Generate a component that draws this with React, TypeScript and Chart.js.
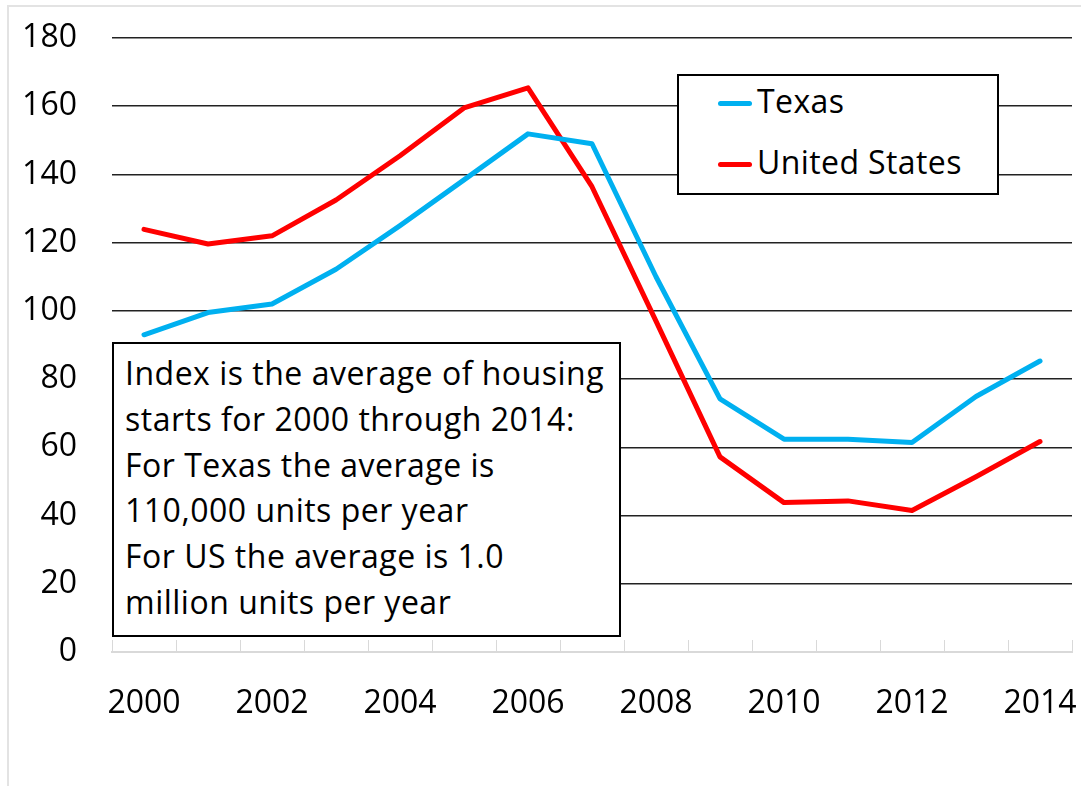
import React, { useEffect, useRef } from "react";
import { Chart, registerables } from "chart.js";

Chart.register(...registerables);

const years = ["2000", "2001", "2002", "2003", "2004", "2005", "2006", "2007", "2008", "2009", "2010", "2011", "2012", "2013", "2014"];
const texas = [93, 99.5, 102, 112.2, 125, 138.4, 151.9, 149, 110, 74.2, 62.4, 62.4, 61.4, 74.9, 85.3];
const unitedStates = [123.9, 119.6, 122, 132.5, 145.5, 159.5, 165.4, 136.4, 97, 57.2, 43.8, 44.3, 41.5, 51.4, 61.7];
const seriesNames = ["Texas", "United States"];
const seriesColors = ["#00B0F0", "#FF0000"];
const noteLines = [
  "Index is the average of housing",
  "starts for 2000 through 2014:",
  "For Texas the average is",
  "110,000 units per year",
  "For US the average is 1.0",
  "million units per year",
];

const FONT = "'Open Sans', sans-serif";

export default function App() {
  const ref = useRef<HTMLCanvasElement | null>(null);

  useEffect(() => {
    if (!ref.current) return;
    const chart = new Chart(ref.current, {
      type: "line",
      data: {
        labels: years,
        datasets: [
          { label: seriesNames[0], data: texas, borderColor: seriesColors[0], backgroundColor: seriesColors[0], borderWidth: 5, pointRadius: 0, tension: 0, borderCapStyle: "round", borderJoinStyle: "round" },
          { label: seriesNames[1], data: unitedStates, borderColor: seriesColors[1], backgroundColor: seriesColors[1], borderWidth: 5, pointRadius: 0, tension: 0, borderCapStyle: "round", borderJoinStyle: "round" },
        ],
      },
      options: {
        animation: false,
        responsive: false,
        maintainAspectRatio: false,
        layout: { padding: { top: 38, right: 9, left: 0, bottom: 0 } },
        plugins: { legend: { display: false }, tooltip: { enabled: false } },
        scales: {
          x: {
            type: "category",
            offset: true,
            grid: { display: true, offset: true, drawOnChartArea: false, drawTicks: true, tickLength: -12, color: "#d9d9d9", lineWidth: 1 },
            border: { display: true, color: "#d9d9d9", width: 2 },
            ticks: {
              autoSkip: false,
              maxRotation: 0,
              minRotation: 0,
              padding: 45,
              color: "#000",
              font: { family: FONT, size: 32 },
              callback: (_v: any, i: number) => (i % 2 === 0 ? years[i] : ""),
            },
            afterFit: (s: any) => {
              s.height = 134;
              s.paddingLeft = 0;
              s.paddingRight = 0;
            },
          },
          y: {
            min: 0,
            max: 180,
            ticks: { stepSize: 20, padding: 35, color: "#000", font: { family: FONT, size: 32 } },
            grid: {
              drawTicks: false,
              lineWidth: 1.5,
              color: (c: any) => (c.tick && c.tick.value === 0 ? "rgba(0,0,0,0)" : "#222"),
            },
            border: { display: false },
            afterFit: (s: any) => {
              s.width = 112;
              s.paddingTop = 0;
              s.paddingBottom = 0;
            },
          },
        },
      },
    });
    return () => chart.destroy();
  }, []);

  return (
    <div style={{ position: "fixed", left: 0, top: 0, width: 1081, height: 786, overflow: "hidden", background: "#fff", fontFamily: FONT }}>
      <canvas ref={ref} width={1081} height={786} style={{ position: "absolute", left: 0, top: 0, width: 1081, height: 786 }} />
      <div style={{ position: "absolute", left: 7, top: 5, width: 1100, height: 820, border: "2px solid #e3e3e3", pointerEvents: "none" }} />
      <div style={{ position: "absolute", left: 677, top: 74, width: 318, height: 117, border: "2px solid #000", background: "#fff" }}>
        {seriesNames.map((n, i) => (
          <div key={n} style={{ position: "absolute", left: 0, top: i * 61, width: "100%", height: 60 }}>
            <div style={{ position: "absolute", left: 39, top: 25, width: 34, height: 5, borderRadius: 3, background: seriesColors[i] }} />
            <div style={{ position: "absolute", left: 78, top: 8.6, fontSize: 32, lineHeight: "32px", letterSpacing: "0.4px", whiteSpace: "nowrap", color: "#000" }}>{n}</div>
          </div>
        ))}
      </div>
      <div style={{ position: "absolute", left: 112, top: 342, width: 505, height: 291, border: "2px solid #000", background: "#fff" }}>
        <div style={{ position: "absolute", left: 11, top: 6, fontSize: 32, lineHeight: "45.8px", letterSpacing: "0.5px", whiteSpace: "nowrap", color: "#000" }}>
          {noteLines.map((l) => (
            <div key={l}>{l}</div>
          ))}
        </div>
      </div>
    </div>
  );
}
